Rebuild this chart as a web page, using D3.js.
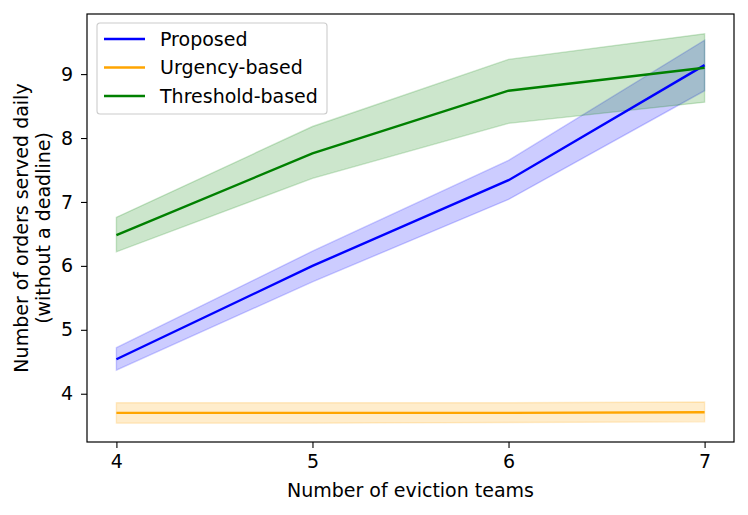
<!DOCTYPE html>
<html>
<head>
<meta charset="utf-8">
<script src="https://cdn.jsdelivr.net/npm/d3@7"></script>
<style>
  body { margin: 0; background: #fff; }
  text { font-family: "DejaVu Sans", sans-serif; }
</style>
</head>
<body>
<svg id="chart"></svg>
<script>
// data
const teams = [4, 5, 6, 7];
const seriesNames = ["Proposed", "Urgency-based", "Threshold-based"];
const seriesColors = ["#0000ff", "#ffa500", "#008000"];
const proposedMean = [4.54, 6.0, 7.34, 9.14];
const proposedLow = [4.37, 5.75, 7.04, 8.74];
const proposedHigh = [4.72, 6.23, 7.65, 9.53];
const urgencyMean = [3.70, 3.70, 3.70, 3.71];
const urgencyLow = [3.54, 3.54, 3.55, 3.56];
const urgencyHigh = [3.86, 3.86, 3.86, 3.87];
const thresholdMean = [6.48, 7.76, 8.74, 9.10];
const thresholdLow = [6.22, 7.37, 8.23, 8.56];
const thresholdHigh = [6.76, 8.18, 9.23, 9.63];
const yTicks = [4, 5, 6, 7, 8, 9];

const series = [
  {mean: proposedMean, low: proposedLow, high: proposedHigh},
  {mean: urgencyMean, low: urgencyLow, high: urgencyHigh},
  {mean: thresholdMean, low: thresholdLow, high: thresholdHigh}
].map((s, i) => ({...s, name: seriesNames[i], color: seriesColors[i]}));

const width = 748, height = 515;
const margin = {top: 14, right: 14, bottom: 73, left: 87};
const fontSize = 19;

const svg = d3.select('#chart')
  .attr('width', width)
  .attr('height', height);

const x = d3.scaleLinear()
  .domain([3.85, 7.15])
  .range([margin.left, width - margin.right]);
const y = d3.scaleLinear()
  .domain([3.245, 9.94])
  .range([height - margin.bottom, margin.top]);

// bands first, then lines
series.forEach(s => {
  const area = d3.area()
    .x((d, i) => x(teams[i]))
    .y0((d, i) => y(s.low[i]))
    .y1((d, i) => y(s.high[i]));
  svg.append('path')
    .datum(s.mean)
    .attr('d', area)
    .attr('fill', s.color)
    .attr('fill-opacity', 0.2)
    .attr('stroke', s.color)
    .attr('stroke-opacity', 0.2)
    .attr('stroke-width', 1.4);
});

series.forEach(s => {
  const line = d3.line()
    .x((d, i) => x(teams[i]))
    .y(d => y(d));
  svg.append('path')
    .datum(s.mean)
    .attr('d', line)
    .attr('fill', 'none')
    .attr('stroke', s.color)
    .attr('stroke-width', 2.4);
});

// axes
const xAxis = svg.append('g')
  .attr('transform', `translate(0,${height - margin.bottom})`)
  .call(d3.axisBottom(x).tickValues(teams).tickFormat(d3.format('d')).tickSize(6).tickPadding(7));
const yAxis = svg.append('g')
  .attr('transform', `translate(${margin.left},0)`)
  .call(d3.axisLeft(y).tickValues(yTicks).tickFormat(d3.format('d')).tickSize(6).tickPadding(8));

[xAxis, yAxis].forEach(g => {
  g.select('.domain').remove();
  g.selectAll('.tick line').attr('stroke', '#000').attr('stroke-width', 1.1);
  g.selectAll('.tick text')
    .attr('font-size', fontSize)
    .attr('fill', '#000')
    .style('font-family', '"DejaVu Sans", sans-serif');
});

svg.append('rect')
  .attr('x', margin.left)
  .attr('y', margin.top)
  .attr('width', width - margin.left - margin.right)
  .attr('height', height - margin.top - margin.bottom)
  .attr('fill', 'none')
  .attr('stroke', '#000')
  .attr('stroke-width', 1.2);

// axis labels
svg.append('text')
  .attr('x', (margin.left + width - margin.right) / 2)
  .attr('y', 497)
  .attr('text-anchor', 'middle')
  .attr('font-size', fontSize)
  .text('Number of eviction teams');

const yLabel = svg.append('text')
  .attr('transform', `translate(28,${(margin.top + height - margin.bottom) / 2}) rotate(-90)`)
  .attr('text-anchor', 'middle')
  .attr('font-size', fontSize);
yLabel.append('tspan').attr('x', 0).attr('dy', 0).text('Number of orders served daily');
yLabel.append('tspan').attr('x', 0).attr('dy', 21.5).text('(without a deadline)');

// legend
const legend = svg.append('g').attr('transform', 'translate(97,23)');
legend.append('rect')
  .attr('width', 230)
  .attr('height', 91)
  .attr('rx', 3)
  .attr('fill', '#fff')
  .attr('fill-opacity', 0.8)
  .attr('stroke', '#ccc')
  .attr('stroke-width', 1.1);

series.forEach((s, i) => {
  const row = legend.append('g').attr('transform', `translate(0,${16 + i * 28.5})`);
  row.append('line')
    .attr('x1', 7).attr('x2', 48)
    .attr('stroke', s.color)
    .attr('stroke-width', 2.4);
  row.append('text')
    .attr('x', 63)
    .attr('dy', '0.35em')
    .attr('font-size', fontSize)
    .text(s.name);
});
</script>
</body>
</html>
